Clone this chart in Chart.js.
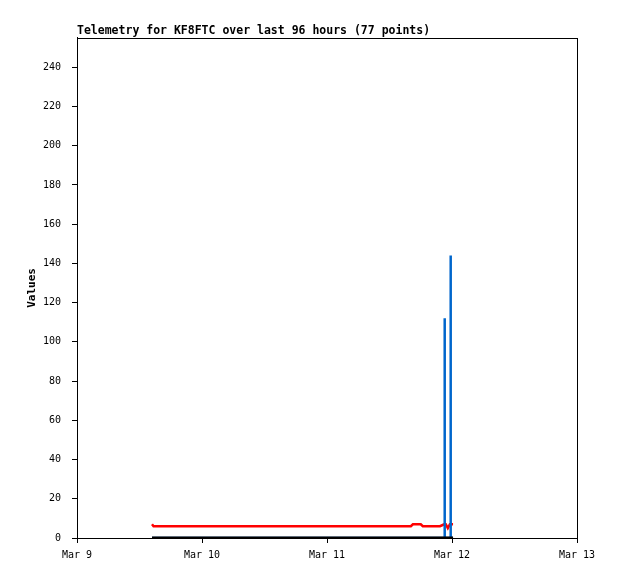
<!DOCTYPE html>
<html>
<head>
<meta charset="utf-8">
<script src="https://cdn.jsdelivr.net/npm/chart.js@4/dist/chart.umd.min.js"></script>
<style>
  html, body { margin: 0; padding: 0; background: #ffffff; }
  canvas { display: block; }
</style>
</head>
<body>
<canvas id="telemetriaChart" width="618" height="579"></canvas>
<script>
// Datos (horas desde Mar 9 00:00)
var dayLabels = ['Mar 9', 'Mar 10', 'Mar 11', 'Mar 12', 'Mar 13'];

var redHours  = [14.4, 14.7, 64.1, 64.5, 66.0, 66.4, 69.7, 70.5, 70.8, 71.2, 71.6, 72.2];
var redValues = [7, 6, 6, 7, 7, 6, 6, 7, 7, 5, 7, 7];

var blueHours  = [14.4, 70.6, 70.6, 70.6, 71.75, 71.75, 71.75, 72.2];
var blueValues = [0, 0, 112, 0, 0, 144, 0, 0];

var blackHours  = [14.4, 72.2];
var blackValues = [0, 0];

function puntos(xs, ys) {
    return xs.map(function (x, i) { return { x: x, y: ys[i] }; });
}

var monoFont = "'DejaVu Sans Mono', 'Liberation Mono', monospace";

// Marco completo alrededor del área del gráfico
var marcoPlugin = {
    id: 'marco',
    afterDraw: function (chart) {
        var a = chart.chartArea;
        var ctx = chart.ctx;
        ctx.save();
        ctx.strokeStyle = '#000000';
        ctx.lineWidth = 1;
        ctx.strokeRect(Math.round(a.left) + 0.5, Math.round(a.top) + 0.5,
            Math.round(a.right - a.left), Math.round(a.bottom - a.top));
        ctx.restore();
    }
};

var ctx = document.getElementById('telemetriaChart');
new Chart(ctx.getContext('2d'), {
    type: 'scatter',
    data: {
        datasets: [{
            label: 'ch3',
            data: puntos(blackHours, blackValues),
            showLine: true,
            borderColor: '#000000',
            borderWidth: 3,
            pointRadius: 0
        }, {
            label: 'ch2',
            data: puntos(blueHours, blueValues),
            showLine: true,
            borderColor: '#0066cc',
            borderWidth: 2.5,
            pointRadius: 0
        }, {
            label: 'ch1',
            data: puntos(redHours, redValues),
            showLine: true,
            borderColor: '#ff0000',
            borderWidth: 2.5,
            pointRadius: 0
        }]
    },
    options: {
        responsive: false,
        animation: false,
        layout: { padding: { left: 0, right: 41, top: 0, bottom: 0 } },
        scales: {
            x: {
                type: 'linear',
                min: 0,
                max: 96,
                afterFit: function (s) { s.height = 41; },
                border: { display: true, color: '#000000', width: 1 },
                grid: { drawOnChartArea: false, drawTicks: true, tickLength: 5, color: '#000000' },
                ticks: {
                    stepSize: 24,
                    padding: 6,
                    maxRotation: 0,
                    color: '#000000',
                    font: { family: monoFont, size: 10 },
                    callback: function (v) { return dayLabels[v / 24]; }
                }
            },
            y: {
                min: 0,
                max: 255,
                afterFit: function (s) { s.width = 77; },
                border: { display: true, color: '#000000', width: 1 },
                grid: { drawOnChartArea: false, drawTicks: true, tickLength: 5, color: '#000000' },
                title: {
                    display: true,
                    text: 'Values',
                    color: '#000000',
                    font: { family: monoFont, size: 11, weight: 'bold' },
                    padding: { top: 26, bottom: 0 }
                },
                ticks: {
                    stepSize: 20,
                    includeBounds: false,
                    padding: 11,
                    color: '#000000',
                    font: { family: monoFont, size: 10 }
                }
            }
        },
        plugins: {
            legend: { display: false },
            tooltip: { enabled: false },
            title: {
                display: true,
                text: 'Telemetry for KF8FTC over last 96 hours (77 points)',
                align: 'start',
                fullSize: false,
                color: '#000000',
                font: { family: monoFont, size: 11.5, weight: 'bold' },
                padding: { top: 24, bottom: 0 }
            }
        }
    },
    plugins: [marcoPlugin]
});
</script>
</body>
</html>
